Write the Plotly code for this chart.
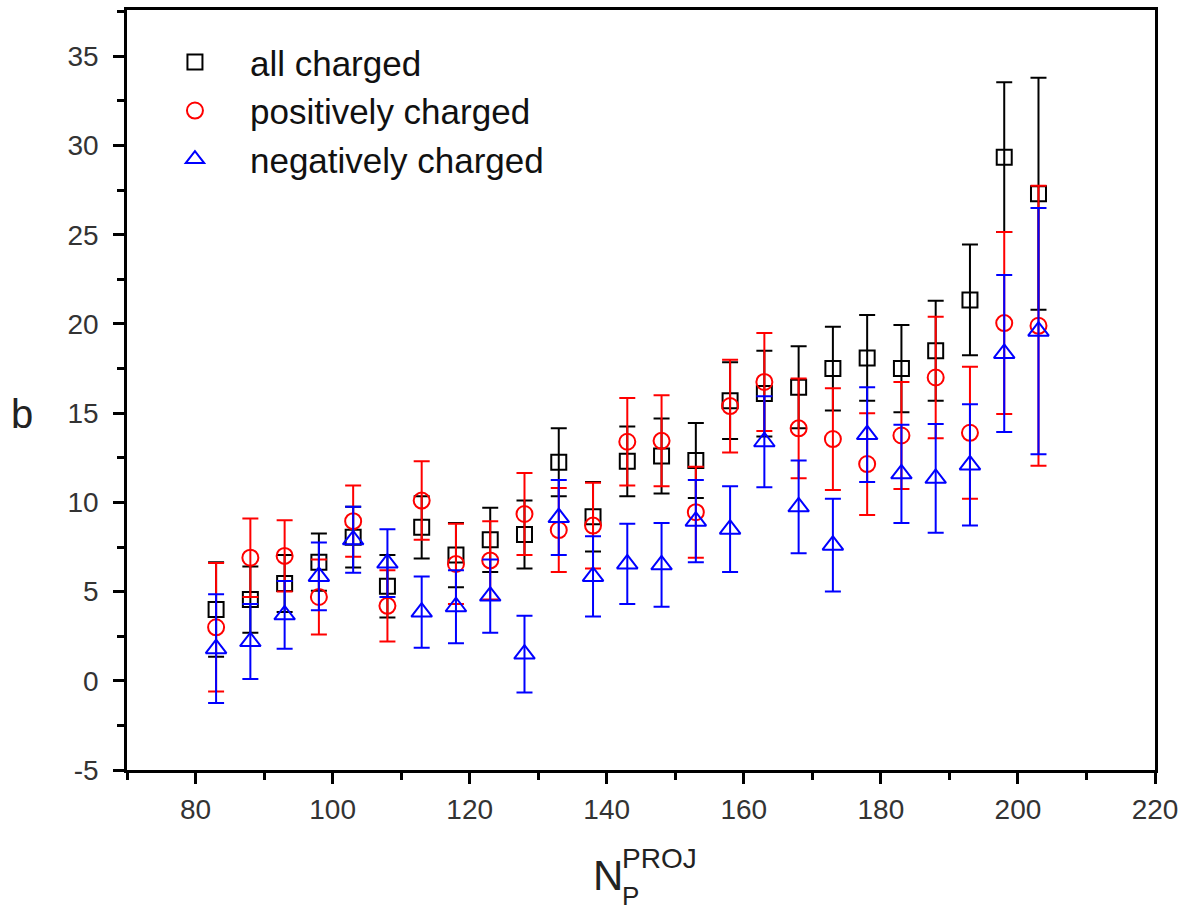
import plotly.graph_objects as go

# ---- data ----
n_proj = [83, 88, 93, 98, 103, 108, 113, 118, 123, 128, 133, 138, 143,
          148, 153, 158, 163, 168, 173, 178, 183, 188, 193, 198, 203]

all_b = [4.0, 4.55, 5.45, 6.65, 8.05, 5.3, 8.6, 7.05, 7.9, 8.2, 12.25, 9.2, 12.3,
         12.6, 12.35, 15.7, 16.1, 16.45, 17.5, 18.1, 17.5, 18.5, 21.35, 29.35, 27.3]
all_err = [2.65, 1.85, 1.6, 1.6, 1.7, 1.75, 1.75, 1.8, 1.8, 1.9, 1.9, 1.95, 1.95,
           2.1, 2.1, 2.15, 2.4, 2.3, 2.35, 2.4, 2.45, 2.8, 3.1, 4.2, 6.5]

pos_b = [3.0, 6.9, 7.0, 4.7, 8.95, 4.2, 10.1, 6.55, 6.75, 9.35, 8.45, 8.7, 13.4,
         13.45, 9.45, 15.4, 16.75, 14.15, 13.55, 12.15, 13.75, 17.0, 13.9, 20.05, 19.9]
pos_err = [3.6, 2.2, 2.0, 2.1, 2.0, 2.0, 2.2, 2.25, 2.2, 2.3, 2.35, 2.4, 2.45,
           2.55, 2.55, 2.6, 2.75, 2.8, 2.85, 2.85, 3.0, 3.4, 3.7, 5.1, 7.85]

neg_b = [1.8, 2.2, 3.7, 5.85, 7.9, 6.6, 3.85, 4.15, 4.75, 1.5, 9.15, 5.85, 6.55,
         6.5, 8.95, 8.5, 13.4, 9.75, 7.6, 13.8, 11.6, 11.35, 12.1, 18.35, 19.6]
neg_err = [3.05, 2.1, 1.9, 1.9, 1.85, 1.9, 2.0, 2.05, 2.05, 2.15, 2.1, 2.25, 2.25,
           2.35, 2.3, 2.4, 2.55, 2.6, 2.6, 2.65, 2.75, 3.05, 3.4, 4.4, 6.9]

series_names = ["all charged", "positively charged", "negatively charged"]

x_ticks = [80, 100, 120, 140, 160, 180, 200, 220]
y_ticks = [-5, 0, 5, 10, 15, 20, 25, 30, 35]

FONT = "Liberation Sans, Arial, sans-serif"

fig = go.Figure()

styles = [
    (all_b, all_err, "black", "square-open", 15),
    (pos_b, pos_err, "#ff0000", "circle-open", 16),
    (neg_b, neg_err, "#0000ff", "triangle-up-open", 18),
]

for name, (vals, errs, col, sym, sz) in zip(series_names, styles):
    fig.add_trace(go.Scatter(
        x=n_proj, y=vals, name=name, mode="markers",
        legendgroup=name,
        marker=dict(symbol=sym, size=sz, color=col, line=dict(color=col, width=2)),
        error_y=dict(type="data", array=errs, visible=True, color=col,
                     thickness=2, width=8),
    ))

fig.update_layout(
    width=1185, height=910,
    margin=dict(l=127, r=27, t=7, b=140),
    paper_bgcolor="white", plot_bgcolor="white",
    font=dict(family=FONT, color="#222"),
    showlegend=True,
    legend=dict(x=0.0126, y=0.970, xanchor="left", yanchor="top",
                bgcolor="rgba(0,0,0,0)", font=dict(size=35, color="#111", family=FONT),
                itemwidth=100, tracegroupgap=0),
)

fig.update_xaxes(
    range=[70, 220], tickvals=x_ticks, ticktext=[str(v) for v in x_ticks],
    showgrid=False, zeroline=False,
    showline=True, linecolor="black", linewidth=2.5, mirror=True,
    ticks="outside", ticklen=11, tickwidth=2.5, tickcolor="black",
    tickfont=dict(size=28, color="#333", family=FONT),
    ticklabelstandoff=2,
    minor=dict(tick0=70, dtick=10, ticks="outside", ticklen=7, tickwidth=2.5, tickcolor="black"),
)
fig.update_yaxes(
    range=[-5, 37.6], tickvals=y_ticks, ticktext=[str(v) for v in y_ticks],
    showgrid=False, zeroline=False,
    showline=True, linecolor="black", linewidth=2.5, mirror=True,
    ticks="outside", ticklen=11, tickwidth=2.5, tickcolor="black",
    tickfont=dict(size=28, color="#333", family=FONT),
    ticklabelstandoff=9,
    minor=dict(tick0=-5, dtick=2.5, ticks="outside", ticklen=7, tickwidth=2.5, tickcolor="black"),
)

# axis titles as text annotations
fig.add_annotation(text="b", xref="paper", yref="paper", x=-0.102, y=0.469,
                   xanchor="center", yanchor="middle", showarrow=False,
                   font=dict(size=40, color="#222", family=FONT))
fig.add_annotation(text="N", xref="paper", yref="paper", x=0.4510, y=-0.139,
                   xanchor="left", yanchor="middle", showarrow=False,
                   font=dict(size=42, color="#222", family=FONT))
fig.add_annotation(text="PROJ", xref="paper", yref="paper", x=0.4800, y=-0.117,
                   xanchor="left", yanchor="middle", showarrow=False,
                   font=dict(size=28, color="#222", family=FONT))
fig.add_annotation(text="P", xref="paper", yref="paper", x=0.4800, y=-0.1655,
                   xanchor="left", yanchor="middle", showarrow=False,
                   font=dict(size=26, color="#222", family=FONT))

fig.write_html("out.html", config={"displayModeBar": False},
               post_script="document.body.style.margin='0';")
